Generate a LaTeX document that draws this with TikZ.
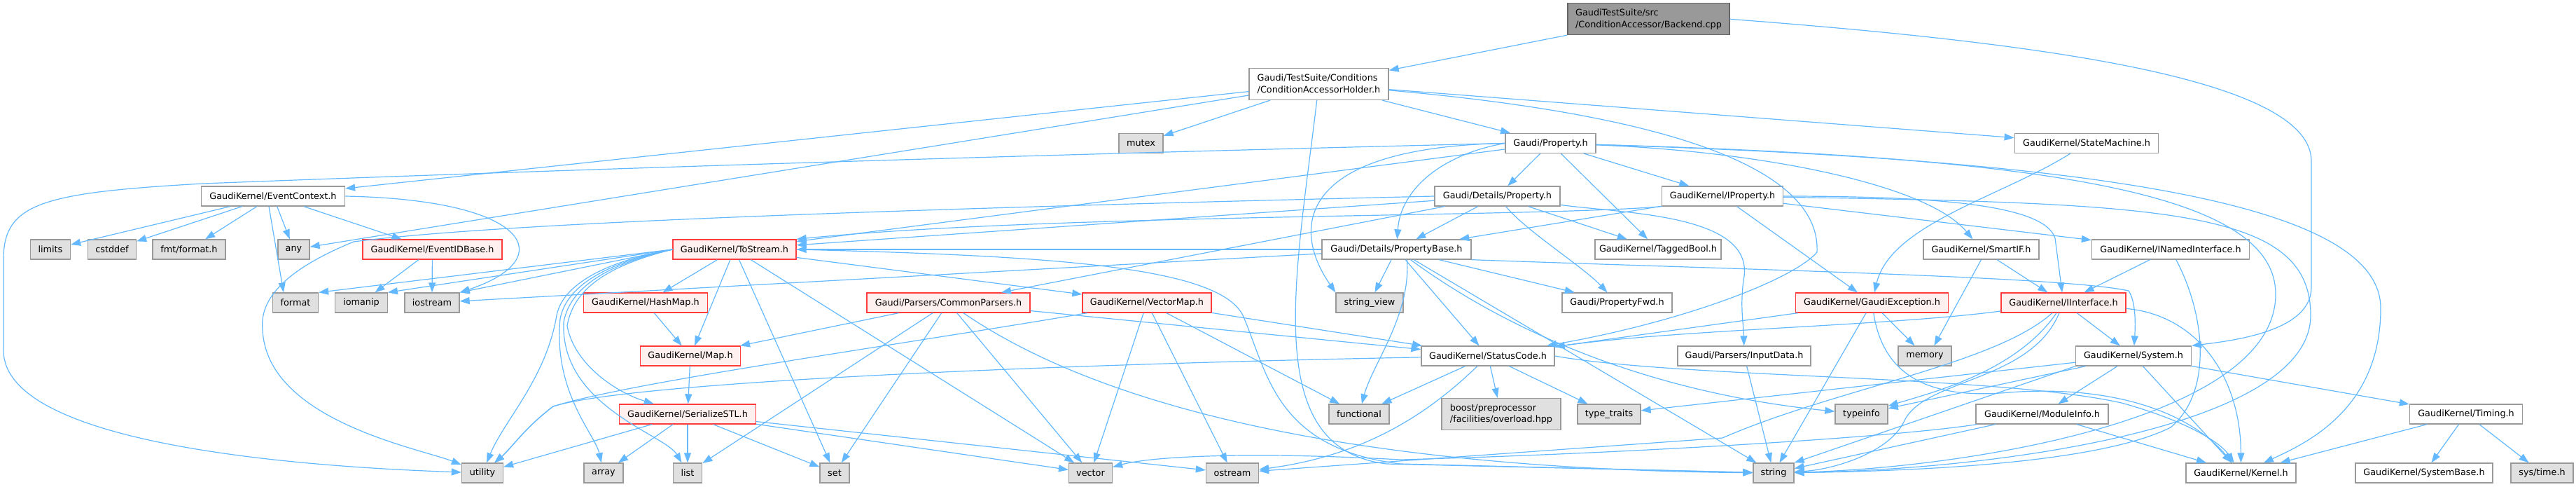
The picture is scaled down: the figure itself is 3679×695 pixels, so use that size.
\documentclass[tikz,border=0pt]{standalone}
\usepackage{fontspec}
\setmainfont{DejaVu Sans}
\usetikzlibrary{arrows.meta,calc}
\definecolor{edgec}{HTML}{63B8FF}
\definecolor{boxline}{HTML}{999999}
\definecolor{redline}{HTML}{FF3B3B}
\definecolor{redfill}{HTML}{FFF0F0}
\definecolor{extfill}{HTML}{E0E0E0}
\definecolor{startfill}{HTML}{999999}
\definecolor{startline}{HTML}{666666}
\newcommand\mynode[6]{\node[#2, minimum width={#5*0.75pt}] (#1) at (#3,#4) {#6};}
\tikzset{
 nbase/.style={rectangle, inner sep=0pt, minimum height=21pt, font=\fontsize{9.6}{12.5}\selectfont, text=black, line width=1pt},
 wnode/.style={nbase, draw=boxline, fill=white},
 rnode/.style={nbase, draw=redline, fill=redfill},
 gnode/.style={nbase, draw=boxline, fill=extfill},
 snode/.style={nbase, draw=startline, fill=startfill},
 twoline/.style={minimum height=33.75pt, align=left},
 dep/.style={draw=edgec, line width=0.9pt, -{Triangle[length=10.5pt,width=7.5pt]}},
}
\begin{document}
\begin{tikzpicture}[x=0.75pt,y=-0.75pt]
\useasboundingbox (0,0) rectangle (3679,695);
% row 0-3
\mynode{backend}{snode,twoline}{2354.5}{27.3}{231}{GaudiTestSuite/src\\/ConditionAccessor/Backend.cpp}
\mynode{cah}{wnode,twoline}{1883.5}{120}{199}{Gaudi/TestSuite/Conditions\\/ConditionAccessorHolder.h}
\mynode{mutex}{gnode}{1629.5}{204.5}{63}{mutex}
\mynode{property}{wnode}{2214.5}{204.5}{129}{Gaudi/Property.h}
\mynode{statemachine}{wnode}{2980}{204.5}{205.5}{GaudiKernel/StateMachine.h}
\mynode{eventcontext}{wnode}{390}{280}{205}{GaudiKernel/EventContext.h}
\mynode{detprop}{wnode}{2138.5}{280}{179}{Gaudi/Details/Property.h}
\mynode{iproperty}{wnode}{2460}{280}{173}{GaudiKernel/IProperty.h}
% row 4
\mynode{limits}{gnode}{72}{356}{57}{limits}
\mynode{cstddef}{gnode}{160}{356}{69}{cstddef}
\mynode{fmtformat}{gnode}{270}{356}{104}{fmt/format.h}
\mynode{any}{gnode}{419.5}{356}{45}{any}
\mynode{eventidbase}{rnode}{617.5}{356}{199}{GaudiKernel/EventIDBase.h}
\mynode{tostream}{rnode}{1049}{356}{176}{GaudiKernel/ToStream.h}
\mynode{propbase}{wnode}{1994.5}{356}{213}{Gaudi/Details/PropertyBase.h}
\mynode{taggedbool}{wnode}{2368}{356}{180}{GaudiKernel/TaggedBool.h}
\mynode{smartif}{wnode}{2829.5}{356}{165}{GaudiKernel/SmartIF.h}
\mynode{inamed}{wnode}{3100}{356}{225}{GaudiKernel/INamedInterface.h}
% row 5
\mynode{format}{gnode}{422}{432}{65}{format}
\mynode{iomanip}{gnode}{516}{432}{74.5}{iomanip}
\mynode{iostream}{gnode}{617}{432}{78}{iostream}
\mynode{hashmap}{rnode}{922}{432}{177}{GaudiKernel/HashMap.h}
\mynode{commonparsers}{rnode}{1354.5}{432}{233}{Gaudi/Parsers/CommonParsers.h}
\mynode{vectormap}{rnode}{1638}{432}{184}{GaudiKernel/VectorMap.h}
\mynode{stringview}{gnode}{1956}{432}{96}{string\_view}
\mynode{propfwd}{wnode}{2309.5}{432}{157}{Gaudi/PropertyFwd.h}
\mynode{gaudiexc}{rnode}{2673.5}{432}{218}{GaudiKernel/GaudiException.h}
\mynode{iinterface}{rnode}{2947}{432}{178}{GaudiKernel/IInterface.h}
% row 6
\mynode{map}{rnode}{986}{508}{143}{GaudiKernel/Map.h}
\mynode{statuscode}{wnode}{2125}{508}{190}{GaudiKernel/StatusCode.h}
\mynode{inputdata}{wnode}{2491}{508}{190}{Gaudi/Parsers/InputData.h}
\mynode{memory}{gnode}{2749}{508}{76}{memory}
\mynode{system}{wnode}{3047}{508}{165}{GaudiKernel/System.h}
% row 7
\mynode{serialize}{rnode}{982}{591}{195}{GaudiKernel/SerializeSTL.h}
\mynode{functional}{gnode}{1941}{591}{86}{functional}
\mynode{boost}{gnode,twoline}{2144}{591}{170}{boost/preprocessor\\/facilities/overload.hpp}
\mynode{typetraits}{gnode}{2298}{591}{90}{type\_traits}
\mynode{typeinfo}{gnode}{2658.5}{591}{75}{typeinfo}
\mynode{moduleinfo}{wnode}{2916.5}{591}{189}{GaudiKernel/ModuleInfo.h}
\mynode{timing}{wnode}{3522}{591}{161}{GaudiKernel/Timing.h}
% row 8
\mynode{utility}{gnode}{689}{675}{59}{utility}
\mynode{array}{gnode}{862}{675}{56}{array}
\mynode{list}{gnode}{982}{675}{41.5}{list}
\mynode{set}{gnode}{1192}{675}{42}{set}
\mynode{vector}{gnode}{1557.5}{675}{62}{vector}
\mynode{ostream}{gnode}{1760}{675}{75}{ostream}
\mynode{string}{gnode}{2533}{675}{58}{string}
\mynode{kernel}{wnode}{3200.5}{675}{157}{GaudiKernel/Kernel.h}
\mynode{systembase}{wnode}{3462}{675}{196}{GaudiKernel/SystemBase.h}
\mynode{systime}{gnode}{3630.5}{675}{89}{sys/time.h}

% Backend
\draw[dep] (backend) -- (cah);
\draw[dep] (backend.east) .. controls (2900,60) and (3301,110) .. (3301,230) -- (3301,410) .. controls (3301,470) and (3200,485) .. (system.north east);
% CAH
\draw[dep] (cah) -- (eventcontext);
\draw[dep] (cah) -- (any);
\draw[dep] (cah) -- (mutex);
\draw[dep] (cah) -- (property);
\draw[dep] (cah) -- (statemachine);
\draw[dep] (cah) .. controls (1850,400) and (1800,640) .. (1980,662) -- (string);
\draw[dep] (cah) .. controls (2450,170) and (2600,260) .. (2595,360) .. controls (2560,400) and (2400,460) .. (statuscode);
% EventContext
\draw[dep] (eventcontext) -- (limits);
\draw[dep] (eventcontext) -- (cstddef);
\draw[dep] (eventcontext) -- (fmtformat);
\draw[dep] (eventcontext) -- (any);
\draw[dep] (eventcontext) -- (eventidbase);
\draw[dep] ([xshift=-4.5pt]eventcontext.south) -- ([xshift=-12.75pt]format.north);
\draw[dep] (eventcontext.east) .. controls (760,285) and (800,370) .. (iostream.north east);
% EventIDBase
\draw[dep] (eventidbase) -- (iomanip);
\draw[dep] (eventidbase) -- (iostream);
% Property
\draw[dep] (property) -- (detprop);
\draw[dep] (property) -- (iproperty);
\draw[dep] (property) -- (taggedbool);
\draw[dep] (property.west) .. controls (2060,220) and (2000,270) .. (propbase);
\draw[dep] (property.west) .. controls (1860,210) and (1840,320) .. (stringview.north west);
\draw[dep] (property) .. controls (2500,215) and (2750,260) .. (smartif);
\draw[dep] (property) -- (tostream);
\draw[dep] (property.west) .. controls (1300,225) and (600,250) .. (290,262) .. controls (60,275) and (5,290) .. (5,370) -- (5,500) .. controls (5,630) and (400,665) .. (utility);
\draw[dep] (property) .. controls (2950,225) and (3250,280) .. (3250,420) .. controls (3250,600) and (2800,668) .. (string);
\draw[dep] (property) .. controls (3050,230) and (3400,300) .. (3400,440) .. controls (3400,580) and (3300,630) .. (kernel);
% Details/Property
\draw[dep] (detprop) -- (propbase);
\draw[dep] (detprop) -- (taggedbool);
\draw[dep] (detprop) -- (tostream);
\draw[dep] (detprop.west) .. controls (1200,300) and (700,320) .. (505,345) .. controls (420,380) and (370,420) .. (375,470) .. controls (380,600) and (600,640) .. (utility);
\draw[dep] (detprop) -- (commonparsers);
\draw[dep] (detprop) .. controls (2320,305) and (2510,305) .. (2490,400) .. controls (2485,440) and (2490,460) .. (inputdata);
\draw[dep] (detprop) .. controls (2180,330) and (2260,380) .. (propfwd);
% IProperty
\draw[dep] (iproperty) -- (propbase);
\draw[dep] (iproperty) -- (inamed);
\draw[dep] (iproperty) -- (gaudiexc);
\draw[dep] (iproperty.south west) .. controls (2200,310) and (1500,305) .. (tostream.north east);
\draw[dep] (iproperty) .. controls (2750,280) and (2920,290) .. (2935,340) -- (iinterface);
\draw[dep] (iproperty) .. controls (3100,290) and (3300,300) .. (3300,450) .. controls (3300,610) and (2850,670) .. (string);
% PropertyBase
\draw[dep] (propbase) -- (stringview);
\draw[dep] (propbase.south) ++(15,0) .. controls (2015,450) and (1960,520) .. (functional);
\draw[dep] (propbase) -- (statuscode);
\draw[dep] (propbase) -- (propfwd);
\draw[dep] (propbase.south east) .. controls (2500,385) and (2950,395) .. (3040,415) .. controls (3050,430) and (3050,460) .. (system);
\draw[dep] (propbase) -- (string);
\draw[dep] (propbase) .. controls (2150,470) and (2350,560) .. (typeinfo);
\draw[dep] (propbase) -- (tostream);
\draw[dep] (propbase) -- (iostream);
% ToStream
\draw[dep] (tostream) -- (hashmap);
\draw[dep] (tostream) -- (map);
\draw[dep] (tostream) -- (set);
\draw[dep] (tostream) -- (vector);
\draw[dep] (tostream) -- (vectormap);
\draw[dep] (tostream.west) -- (format.north east);
\draw[dep] (tostream.west) -- (iomanip.north east);
\draw[dep] (tostream.west) -- (iostream.north east);
\draw[dep] (tostream.west) .. controls (880,370) and (805,400) .. (795,450) .. controls (780,540) and (720,600) .. (utility);
\draw[dep] (tostream.west) .. controls (880,372) and (810,402) .. (800,455) .. controls (790,560) and (850,620) .. (array);
\draw[dep] (tostream.west) .. controls (880,374) and (815,404) .. (805,460) .. controls (800,580) and (950,620) .. (list);
\draw[dep] (tostream.west) .. controls (880,376) and (820,406) .. (810,465) .. controls (820,520) and (880,560) .. (serialize);
\draw[dep] (tostream.east) .. controls (1500,365) and (1740,380) .. (1775,450) .. controls (1810,530) and (1820,640) .. (2000,662) -- (string);
% HashMap, Map
\draw[dep] (hashmap) -- (map);
\draw[dep] (map) -- (serialize);
% SerializeSTL
\draw[dep] (serialize) -- (utility);
\draw[dep] (serialize) -- (array);
\draw[dep] (serialize) -- (list);
\draw[dep] (serialize) -- (set);
\draw[dep] (serialize) -- (vector);
\draw[dep] (serialize) -- (ostream);
% CommonParsers
\draw[dep] (commonparsers) -- (map);
\draw[dep] (commonparsers) -- (statuscode);
\draw[dep] (commonparsers) -- (list);
\draw[dep] (commonparsers) -- (set);
\draw[dep] (commonparsers) -- (vector);
\draw[dep] (commonparsers) .. controls (1600,600) and (2000,670) .. (string);
% VectorMap
\draw[dep] (vectormap) .. controls (1300,490) and (900,545) .. (790,580) .. controls (750,610) and (730,640) .. (utility);
\draw[dep] (vectormap) -- (vector);
\draw[dep] (vectormap) -- (ostream);
\draw[dep] (vectormap) -- (functional);
\draw[dep] (vectormap) -- (statuscode);
% StatusCode
\draw[dep] (statuscode) -- (functional);
\draw[dep] (statuscode) -- (boost);
\draw[dep] (statuscode) -- (typetraits);
\draw[dep] (statuscode) .. controls (2040,590) and (1950,650) .. (ostream);
\draw[dep] (statuscode) .. controls (1500,520) and (900,545) .. (790,580) .. controls (750,610) and (730,640) .. (utility);
\draw[dep] (statuscode.east) .. controls (2400,540) and (2850,535) .. (3030,575) .. controls (3120,600) and (3170,630) .. (kernel);
% GaudiException
\draw[dep] (gaudiexc) -- (statuscode);
\draw[dep] (gaudiexc) -- (memory);
\draw[dep] (gaudiexc) -- (string);
\draw[dep] (gaudiexc) .. controls (2690,540) and (2760,570) .. (2870,560) .. controls (3000,550) and (3120,580) .. (kernel);
% StateMachine
\draw[dep] (statemachine) .. controls (2860,280) and (2700,320) .. (gaudiexc);
% SmartIF
\draw[dep] (smartif) -- (iinterface);
\draw[dep] (smartif.south) -- ([xshift=10pt]memory.north);
% INamedInterface
\draw[dep] (inamed) -- (iinterface);
\draw[dep] (inamed) .. controls (3150,450) and (3160,560) .. (3100,610) .. controls (3000,660) and (2750,672) .. (string);
% IInterface
\draw[dep] (iinterface) .. controls (2700,465) and (2400,470) .. (statuscode);
\draw[dep] (iinterface) -- (system);
\draw[dep] (iinterface) .. controls (3140,450) and (3200,540) .. (kernel);
\draw[dep] (iinterface) .. controls (2900,545) and (2750,540) .. (2720,600) .. controls (2700,645) and (2620,670) .. (string);
\draw[dep] (iinterface) .. controls (2850,520) and (2620,555) .. (2460,625) -- (ostream);
\draw[dep] (iinterface) .. controls (2880,530) and (2760,560) .. (typeinfo);
% System
\draw[dep] (system) -- (moduleinfo);
\draw[dep] (system) -- (kernel);
\draw[dep] (system) -- (timing);
\draw[dep] (system) -- (typeinfo);
\draw[dep] (system.south west) -- (string.north east);
\draw[dep] (system) -- (typetraits);
% ModuleInfo
\draw[dep] (moduleinfo) -- (kernel);
\draw[dep] (moduleinfo) -- (string);
\draw[dep] (moduleinfo) .. controls (2700,625) and (2300,648) .. (2000,656) .. controls (1800,645) and (1650,650) .. (vector);
% Timing
\draw[dep] (timing) -- (kernel);
\draw[dep] (timing) -- (systembase);
\draw[dep] (timing) -- (systime);
% InputData
\draw[dep] (inputdata) -- (string);
\end{tikzpicture}
\end{document}
